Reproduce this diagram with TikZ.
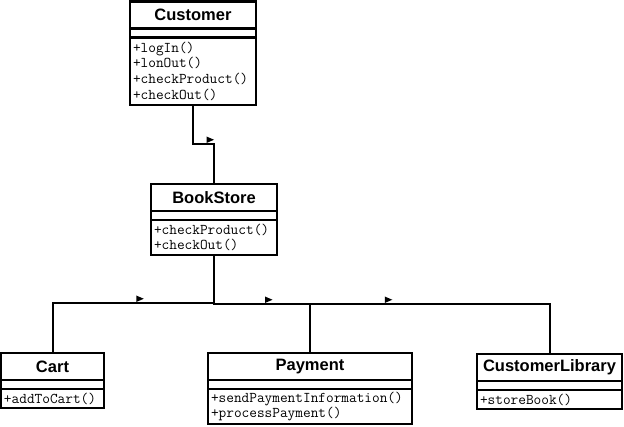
\documentclass[tikz,border=0pt]{standalone}
\usepackage{amsmath}
\usepackage{fontspec}
\usepackage{tikz}
\usetikzlibrary{calc}
\usetikzlibrary{positioning}
\newfontfamily\classfont{Liberation Sans}

\tikzset{
  clsname/.style={draw, line width=2.6pt, outer sep=0pt, inner sep=0pt, minimum height=27pt, font=\classfont\bfseries\fontsize{16.5}{18}\selectfont},
  clsgap/.style={draw, line width=2.6pt, outer sep=0pt, inner sep=0pt, minimum height=9pt},
  clsops/.style={draw, line width=2.6pt, outer sep=0pt, inner xsep=3pt, inner ysep=0pt, align=left, font=\ttfamily\fontsize{14.9}{15.7}\selectfont},
  assoc/.style={line width=2pt},
  navmark/.pic={\fill (3,1) -- (3,7.5) -- (10.5,4.25) -- cycle;}
}

\begin{document}
\begin{tikzpicture}[x=1pt, y=1pt]
      \useasboundingbox (0,0) rectangle (624,-427);
      \foreach \nm/\ttl/\cx/\cy/\bw/\bh/\ops in {
        cust/Customer/193/15/126/67.5/{+logIn()\\+lonOut()\\+checkProduct()\\+checkOut()},
        book/BookStore/214/197.5/126/35/{+checkProduct()\\+checkOut()},
        cart/Cart/52.5/366.5/103/19/{+addToCart()},
        pay/Payment/310/366.5/204/35/{+sendPaymentInformation()\\+processPayment()},
        lib/CustomerLibrary/549.5/367.5/145/19/{+storeBook()}
      } {
        \pgfmathsetmacro\tw{\bw-6}
        \node[clsname, minimum width=\bw pt] (\nm) at (\cx,-\cy) {\ttl};
        \node[clsgap, minimum width=\bw pt, below=0pt of \nm] (\nm-gap) {};
        \node[clsops, text width=\tw pt, minimum height=\bh pt, below=0pt of \nm-gap] (\nm-ops) {\ops};
      }
      \draw[assoc] (cust-ops.south) -- ++(0,-39) -| (book.north) pic[pos=.25] {navmark};
      \draw[assoc] (book-ops.south) -- ++(0,-48) -| (cart.north) pic[pos=.25] {navmark};
      \draw[assoc] (book-ops.south) -- ++(0,-49) -| (pay.north) pic[pos=.25] {navmark};
      \draw[assoc] (book-ops.south) -- ++(0,-49) -| (lib.north) pic[pos=.25] {navmark};
\end{tikzpicture}
\end{document}
